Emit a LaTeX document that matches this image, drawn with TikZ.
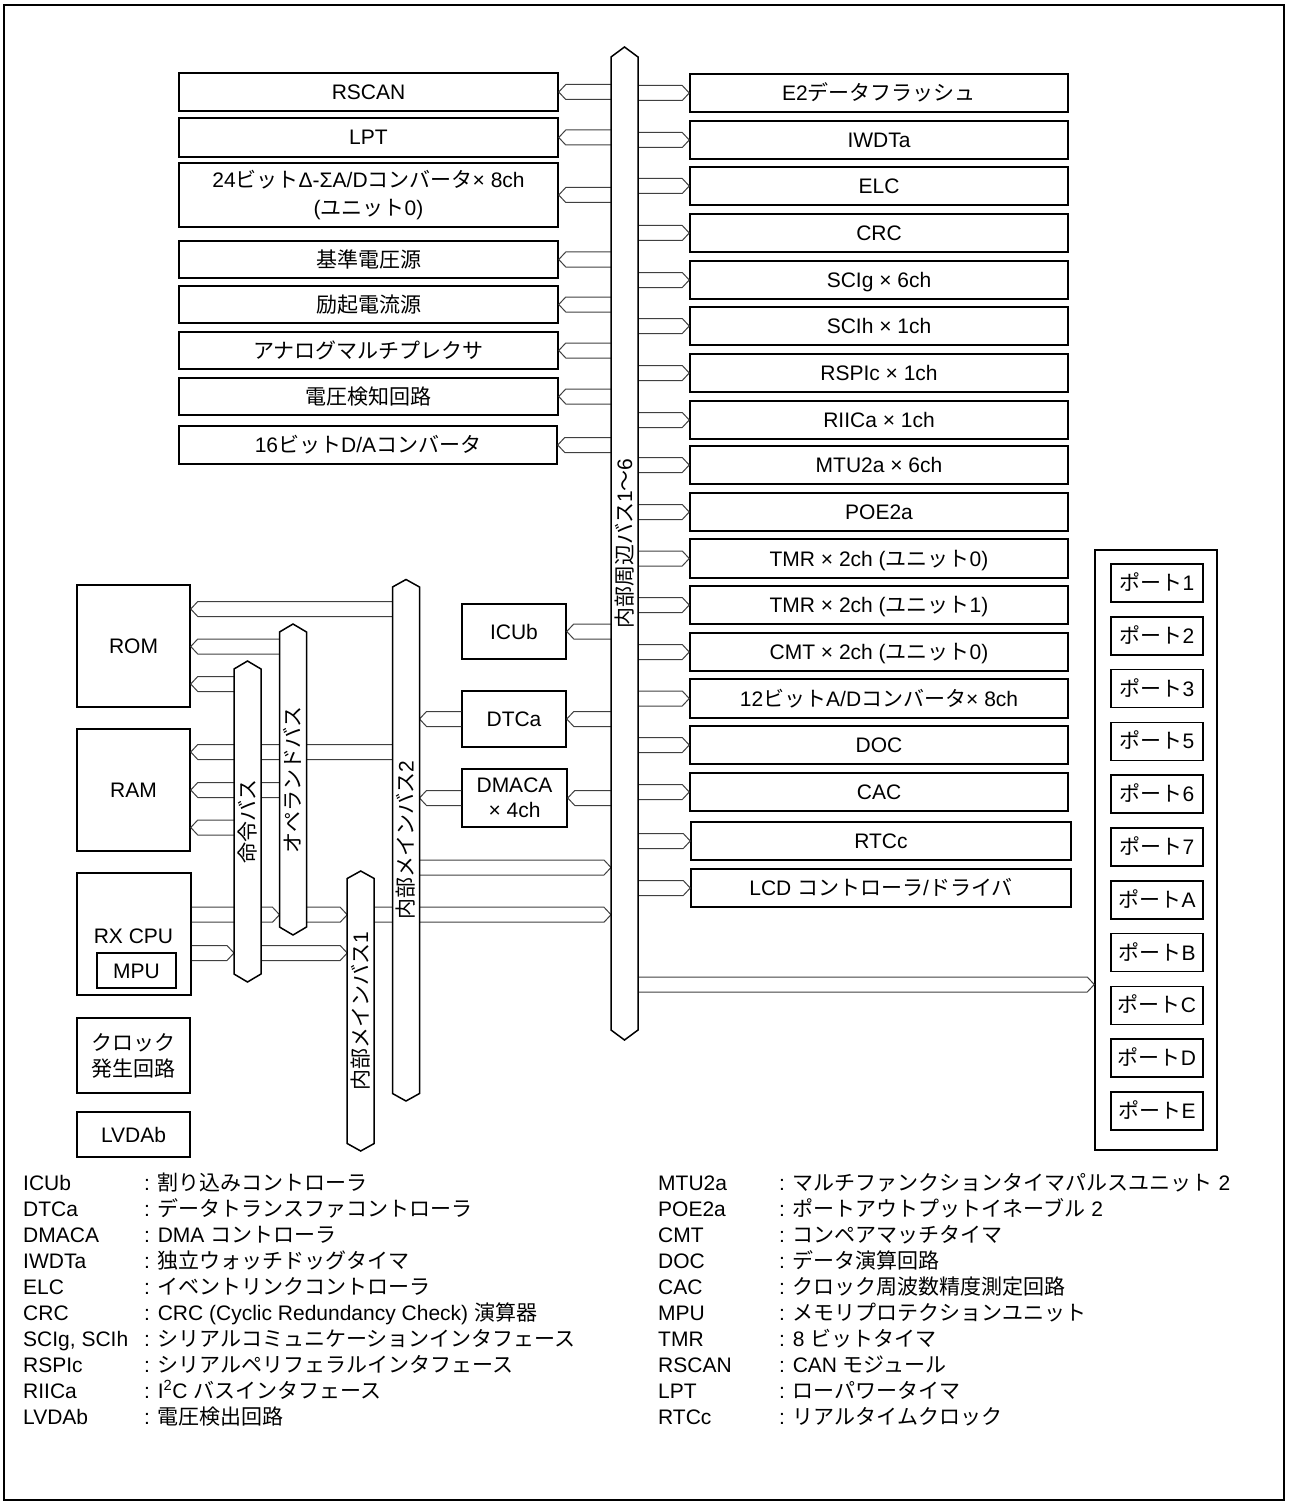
\documentclass[tikz,border=0pt]{standalone}
\usepackage{fontspec}
\setmainfont{Liberation Sans}
\newfontfamily\jpfont{Noto Sans CJK JP}
\usetikzlibrary{calc}
\XeTeXinterchartokenstate=1
\newXeTeXintercharclass\JPc
\makeatletter
\def\setjprange#1#2{\count@=#1\relax
  \loop\XeTeXcharclass\count@=\JPc\relax
  \ifnum\count@<#2\relax\advance\count@\@ne\repeat}
\setjprange{"3000}{"30FF}
\setjprange{"4E00}{"9FFF}
\setjprange{"FF00}{"FFEF}
\makeatother
\XeTeXinterchartoks 0 \JPc = {\jpfont}
\XeTeXinterchartoks 4095 \JPc = {\jpfont}
\XeTeXinterchartoks \JPc 0 = {\rmfamily}
\XeTeXinterchartoks \JPc 4095 = {\rmfamily}
\newcommand\fs{\fontsize{21}{25}\selectfont}
\newcommand\blk[6][box]{\node[#1,minimum width={#4pt-#2pt},minimum height={#5pt-#3pt}] (#6) at ({(#2+#4)/2},{(#3+#5)/2})}
\newcommand\harrow[2]{\draw[band] let \p1=(#1), \p2=(#2), \p3=($(#2)!7pt!(#1)$) in
  (\x1,\y2+7.5pt) -- (\x3,\y2+7.5pt) -- (\x2,\y2) -- (\x3,\y2-7.5pt) -- (\x1,\y2-7.5pt);}
\newcommand\busv[7]{%
  \path[busline] (#2-#6,#3+#5) -- (#2,#3) -- (#2+#6,#3+#5) -- (#2+#6,#4-#5) -- (#2,#4) -- (#2-#6,#4-#5) -- cycle;
  \node[buslbl] (#1) at (#2,{(#3+#4)/2}) {#7};}
\newcommand\leg[5]{\node[leg] (lg#1a) at (#2,{1190.5+26*#3}) {#4};
  \node[leg] (lg#1b) at (#2+121,{1190.5+26*#3}) {: #5};}
\begin{document}
\begin{tikzpicture}[x=1pt,y=-1pt,
  boxbase/.style={draw,line width=1.5pt,fill=white,inner sep=0pt,align=center,font=\fs},
  box/.style={boxbase,text height=17pt,text depth=2pt},
  band/.style={draw=black!75,line width=1pt,line join=miter},
  busline/.style={draw,line width=1.5pt,fill=white,line join=miter},
  buslbl/.style={rotate=90,inner sep=0pt,font=\fs,text height=17pt,text depth=2pt},
  lbl/.style={inner sep=0pt,font=\fs,text height=17pt,text depth=2pt},
  leg/.style={anchor=base west,inner sep=0pt,font=\fs}]
\useasboundingbox (0,0) rectangle (1289,1506);
\draw[line width=1.6pt] (4,5) rectangle (1284,1500);

% bus edges
\coordinate (pL) at (611,0);   \coordinate (pR) at (638,0);
\coordinate (b2L) at (392.5,0); \coordinate (b2R) at (419.5,0);
\coordinate (opL) at (279.5,0); \coordinate (opR) at (306.5,0);
\coordinate (inL) at (234,0);   \coordinate (inR) at (261,0);
\coordinate (m1L) at (347.2,0); \coordinate (m1R) at (374.2,0);
% rows
\coordinate (yRomA) at (0,609);   \coordinate (yRomB) at (0,646.5); \coordinate (yRomC) at (0,684);
\coordinate (yRamA) at (0,752);   \coordinate (yRamB) at (0,790);   \coordinate (yRamC) at (0,827.5);
\coordinate (yCpuA) at (0,914.7); \coordinate (yCpuB) at (0,953);
\coordinate (yMB) at (0,867.5);   \coordinate (yPort) at (0,984.5);

% left column
\blk{179}{73}{558}{111}{rscan} {RSCAN};
\blk{179}{118}{558}{157}{lpt} {LPT};
\blk[boxbase,font={\fontsize{21}{28}\selectfont}]{179}{163}{558}{227}{adc} {24ビットΔ-ΣA/Dコンバータ× 8ch\\(ユニット0)};
\blk{179}{241}{558}{278}{vref} {基準電圧源};
\blk{179}{286}{558}{323}{iexc} {励起電流源};
\blk{179}{332}{558}{369}{amux} {アナログマルチプレクサ};
\blk{179}{378}{558}{415}{vdet} {電圧検知回路};
\blk{179}{426}{557}{464}{dac} {16ビットD/Aコンバータ};

% right column
\blk{690}{74}{1068}{112}{e2} {E2データフラッシュ};
\blk{690}{121}{1068}{159}{iwdt} {IWDTa};
\blk{690}{167}{1068}{205}{elc} {ELC};
\blk{690}{214}{1068}{252}{crc} {CRC};
\blk{690}{261}{1068}{299}{scig} {SCIg × 6ch};
\blk{690}{307}{1068}{345}{scih} {SCIh × 1ch};
\blk{690}{354}{1068}{392}{rspi} {RSPIc × 1ch};
\blk{690}{401}{1068}{439}{riic} {RIICa × 1ch};
\blk{690}{446}{1068}{484}{mtu} {MTU2a × 6ch};
\blk{690}{493}{1068}{531}{poe} {POE2a};
\blk{690}{539}{1068}{578}{tmra} {TMR × 2ch (ユニット0)};
\blk{690}{586}{1068}{624}{tmrb} {TMR × 2ch (ユニット1)};
\blk{690}{633}{1068}{671}{cmt} {CMT × 2ch (ユニット0)};
\blk{690}{679}{1068}{718}{adtw} {12ビットA/Dコンバータ× 8ch};
\blk{690}{726}{1068}{764}{doc} {DOC};
\blk{690}{773}{1068}{811}{cac} {CAC};
\blk{691}{822}{1071}{860}{rtc} {RTCc};
\blk{691}{869}{1071}{907}{lcd} {LCD コントローラ/ドライバ};

% middle
\blk{462}{604}{566}{659}{icubox} {ICUb};
\blk{462}{691}{566}{747}{dtcbox} {DTCa};
\blk[boxbase,font={\fontsize{21}{25}\selectfont}]{462}{769}{567}{827}{dmabox} {DMACA\\× 4ch};

% left bottom
\blk{77}{585}{190}{707}{rom} {ROM};
\blk{77}{729}{190}{851}{ram} {RAM};
\blk{77}{873}{191}{995}{cpu} {};
\node[lbl] (cpulbl) at (133.5,936) {RX CPU};
\blk{97}{953}{176}{988}{mpu} {MPU};
\blk[boxbase,font={\fontsize{21}{26}\selectfont}]{77}{1018}{190}{1093}{clk} {クロック\\発生回路};
\blk{77}{1112}{190}{1157}{lvd} {LVDAb};

% ports
\blk[boxbase]{1095}{550}{1217}{1150}{portframe} {};
\foreach \pn [count=\i from 0] in {1,2,3,5,6,7,A,B,C,D,E}
  \node[box,minimum width=92pt,minimum height=38pt] (port\pn) at (1157,{583+52.8*\i}) {ポート\pn};

% arrows
\foreach \b in {rscan,lpt,adc,vref,iexc,amux,vdet,dac,icubox,dtcbox,dmabox} {\harrow{pL |- \b.east}{\b.east}}
\foreach \b in {e2,iwdt,elc,crc,scig,scih,rspi,riic,mtu,poe,tmra,tmrb,cmt,adtw,doc,cac,rtc,lcd} {\harrow{pR |- \b.west}{\b.west}}
\harrow{dtcbox.west}{b2R |- dtcbox.west}
\harrow{dmabox.west}{b2R |- dmabox.west}
\harrow{b2R |- yMB}{pL |- yMB}
\harrow{m1R |- yCpuA}{pL |- yCpuA}
\harrow{pR |- yPort}{portframe.west |- yPort}
\harrow{b2L |- yRomA}{rom.east |- yRomA}
\harrow{opL |- yRomB}{rom.east |- yRomB}
\harrow{inL |- yRomC}{rom.east |- yRomC}
\harrow{b2L |- yRamA}{ram.east |- yRamA}
\harrow{opL |- yRamB}{ram.east |- yRamB}
\harrow{inL |- yRamC}{ram.east |- yRamC}
\harrow{cpu.east |- yCpuA}{opL |- yCpuA}
\harrow{opR |- yCpuA}{m1L |- yCpuA}
\harrow{cpu.east |- yCpuB}{inL |- yCpuB}
\harrow{inR |- yCpuB}{m1L |- yCpuB}

% buses
\busv{pbus}{624.5}{47}{1040}{10}{13.5}{内部周辺バス1～6}
\busv{mbus2}{406}{579.5}{1101}{7.5}{13.5}{内部メインバス2}
\busv{opbus}{293}{624}{935}{8}{13.5}{オペランドバス}
\busv{inbus}{247.5}{661}{982}{8}{13.5}{命令バス}
\busv{mbus1}{360.7}{871}{1151}{7.5}{13.5}{内部メインバス1}

% legend
\leg{icu}{23}{0}{ICUb}{割り込みコントローラ}
\leg{dtc}{23}{1}{DTCa}{データトランスファコントローラ}
\leg{dma}{23}{2}{DMACA}{DMA コントローラ}
\leg{iwd}{23}{3}{IWDTa}{独立ウォッチドッグタイマ}
\leg{elc}{23}{4}{ELC}{イベントリンクコントローラ}
\leg{crc}{23}{5}{CRC}{CRC (Cyclic Redundancy Check) 演算器}
\leg{sci}{23}{6}{SCIg, SCIh}{シリアルコミュニケーションインタフェース}
\leg{rsp}{23}{7}{RSPIc}{シリアルペリフェラルインタフェース}
\leg{rii}{23}{8}{RIICa}{I\textsuperscript{2}C バスインタフェース}
\leg{lvd}{23}{9}{LVDAb}{電圧検出回路}
\leg{mtu}{658}{0}{MTU2a}{マルチファンクションタイマパルスユニット 2}
\leg{poe}{658}{1}{POE2a}{ポートアウトプットイネーブル 2}
\leg{cmt}{658}{2}{CMT}{コンペアマッチタイマ}
\leg{doc}{658}{3}{DOC}{データ演算回路}
\leg{cac}{658}{4}{CAC}{クロック周波数精度測定回路}
\leg{mpu}{658}{5}{MPU}{メモリプロテクションユニット}
\leg{tmr}{658}{6}{TMR}{8 ビットタイマ}
\leg{rsc}{658}{7}{RSCAN}{CAN モジュール}
\leg{lpt}{658}{8}{LPT}{ローパワータイマ}
\leg{rtc}{658}{9}{RTCc}{リアルタイムクロック}
\end{tikzpicture}
\end{document}
